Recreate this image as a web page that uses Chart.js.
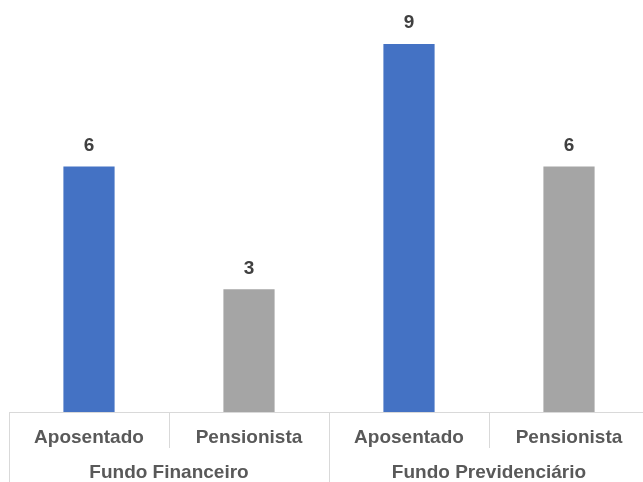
<!DOCTYPE html>
<html>
<head>
<meta charset="utf-8">
<script src="https://cdn.jsdelivr.net/npm/chart.js@4/dist/chart.umd.min.js"></script>
<style>
  html, body { margin: 0; padding: 0; background: #fff; overflow: hidden; }
  #wrap { width: 649px; height: 482px; position: relative; }
</style>
</head>
<body>
<div id="wrap"><canvas id="myChart"></canvas></div>
<script>
const categories = ['Aposentado', 'Pensionista', 'Aposentado', 'Pensionista'];
const groups = ['Fundo Financeiro', 'Fundo Previdenciário'];
const values = [6, 3, 9, 6];
const barColors = ['#4472C4', '#A5A5A5', '#4472C4', '#A5A5A5'];

const labelFont = { family: 'Liberation Sans, Arial, sans-serif', size: 19, weight: 'bold' };

// axis line + group dividers under the category axis
const dividers = {
    id: 'dividers',
    afterDraw(chart) {
        const x = chart.scales.x;
        const ctx = chart.ctx;
        const y0 = chart.chartArea.bottom;
        ctx.save();
        ctx.strokeStyle = '#D9D9D9';
        ctx.lineWidth = 1;
        ctx.beginPath();
        ctx.moveTo(x.left, y0 + 0.5);
        ctx.lineTo(x.right, y0 + 0.5);
        for (let i = 0; i <= categories.length; i++) {
            const px = Math.round(x.getPixelForValue(i - 0.5)) + 0.5;
            const end = (i % 2 === 0) ? chart.height : chart.scales.x2.top;
            ctx.moveTo(px, y0);
            ctx.lineTo(px, end);
        }
        ctx.stroke();
        ctx.restore();
    }
};

// value labels above the bars
const valueLabels = {
    id: 'valueLabels',
    afterDatasetsDraw(chart) {
        const ctx = chart.ctx;
        const meta = chart.getDatasetMeta(0);
        ctx.save();
        ctx.fillStyle = '#404040';
        ctx.font = 'bold 19px "Liberation Sans", Arial, sans-serif';
        ctx.textAlign = 'center';
        ctx.textBaseline = 'middle';
        meta.data.forEach((bar, i) => {
            ctx.fillText(values[i], bar.x, bar.y - 21);
        });
        ctx.restore();
    }
};

const ctx = document.getElementById('myChart').getContext('2d');
new Chart(ctx, {
    type: 'bar',
    data: {
        labels: categories,
        datasets: [{
            data: values,
            backgroundColor: barColors,
            barPercentage: 0.32,
            categoryPercentage: 1
        }]
    },
    options: {
        responsive: true,
        maintainAspectRatio: false,
        animation: false,
        layout: { padding: { left: 9, right: 0, top: 3, bottom: 0 } },
        plugins: { legend: { display: false }, tooltip: { enabled: false } },
        scales: {
            y: { display: false, min: 0, max: 10 },
            x: {
                grid: { display: false, drawTicks: false },
                border: { display: false },
                ticks: { color: '#595959', font: labelFont, padding: 14, maxRotation: 0, autoSkip: false },
                afterFit(scale) { scale.height = 36; }
            },
            x2: {
                type: 'category',
                position: 'bottom',
                labels: groups,
                offset: true,
                grid: { display: false, drawTicks: false },
                border: { display: false },
                ticks: { color: '#595959', font: labelFont, padding: 13, maxRotation: 0, autoSkip: false },
                afterFit(scale) { scale.height = 34; }
            }
        }
    },
    plugins: [dividers, valueLabels]
});
</script>
</body>
</html>
